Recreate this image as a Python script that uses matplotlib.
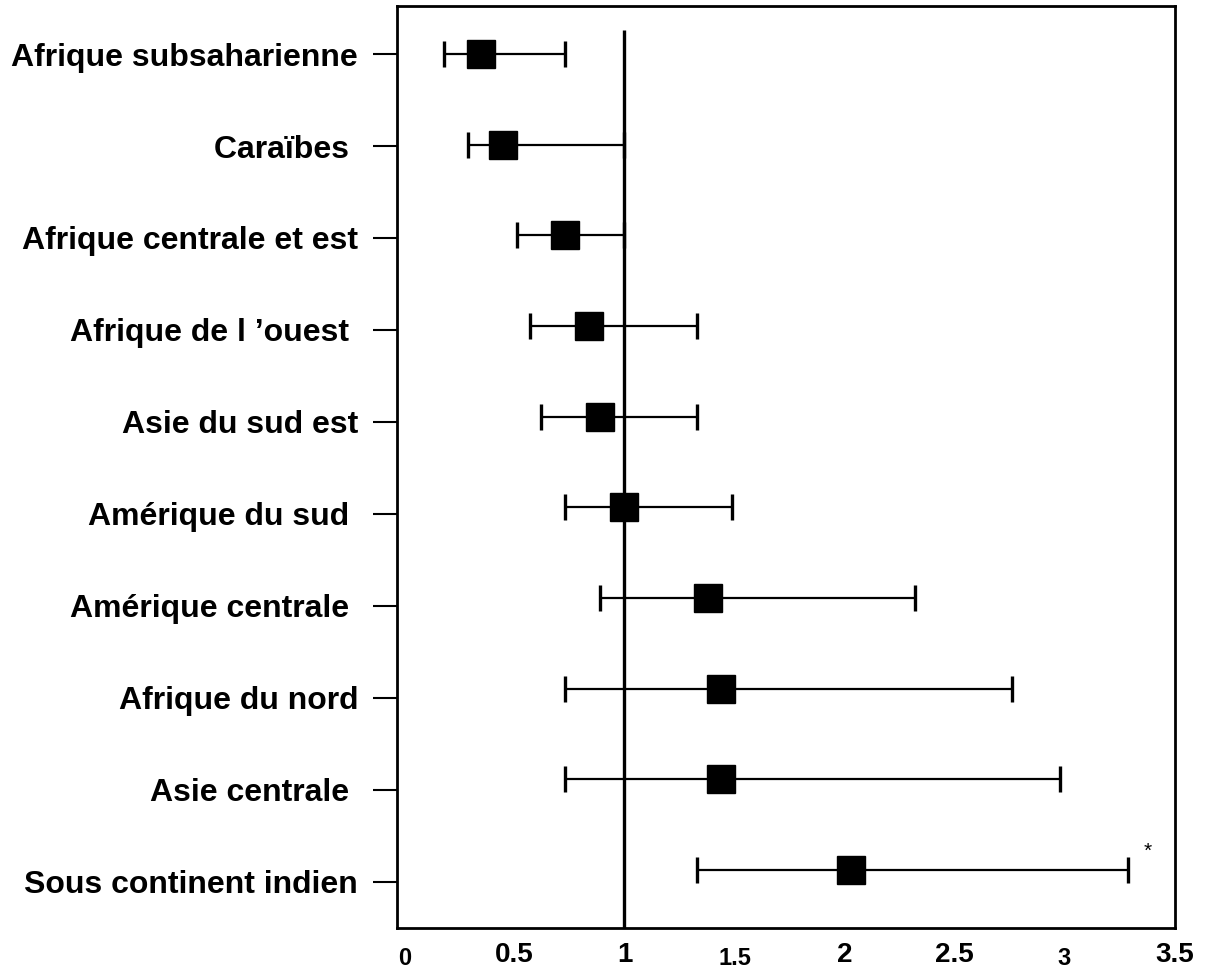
import numpy as np
import matplotlib
matplotlib.use("Agg")
import matplotlib.pyplot as plt
import matplotlib.transforms as mtransforms

# regions, top to bottom
regions = [
    "Afrique subsaharienne",
    "Caraïbes ",
    "Afrique centrale et est",
    "Afrique de l \u2019ouest ",
    "Asie du sud est",
    "Amérique du sud ",
    "Amérique centrale ",
    "Afrique du nord",
    "Asie centrale ",
    "Sous continent indien",
]
# point estimate and confidence interval
est = np.array([0.35, 0.45, 0.73, 0.84, 0.89, 1.00, 1.38, 1.44, 1.44, 2.03])
ci_low = np.array([0.18, 0.29, 0.51, 0.57, 0.62, 0.73, 0.89, 0.73, 0.73, 1.33])
ci_high = np.array([0.73, 1.00, 1.00, 1.33, 1.33, 1.49, 2.32, 2.76, 2.98, 3.29])

x_ticks = [0, 0.5, 1, 1.5, 2, 2.5, 3, 3.5]
x_labels = ["0", "0.5", "1", "1.5", "2", "2.5", "3", "3.5"]
small_labels = ["0", "1.5", "3"]

plt.rcParams['font.family'] = ['Liberation Sans', 'DejaVu Sans']

fig = plt.figure(figsize=(12.16, 9.68), dpi=100)
ax = fig.add_axes([0.3265, 0.0413, 0.6398, 0.9525])

rows = np.arange(len(regions))

ax.vlines(1, -0.265, 9.64, color='black', linewidth=2.4, zorder=1)

ax.errorbar(est, rows, xerr=[est - ci_low, ci_high - est], fmt='s',
            color='black', ms=20, ecolor='black', elinewidth=1.6,
            capsize=9.4, capthick=2.4, zorder=3)

# significance mark
ax.annotate("*", xy=(ci_high[-1], rows[-1]), xytext=(20, 19),
            textcoords='offset pixels', fontsize=15, ha='center', va='center')

ax.set_xlim(-0.034, 3.503)
ax.set_ylim(9.64, -0.53)

ax.set_yticks(rows * 1.0143)
ax.set_yticklabels(regions, fontsize=23, fontweight='bold')
ax.set_xticks(x_ticks)
ax.set_xticklabels(x_labels, fontsize=20, fontweight='bold')

ax.tick_params(axis='y', length=17, width=1.5, pad=11)
ax.tick_params(axis='x', length=0, pad=10)

shift = mtransforms.ScaledTranslation(0, -5 / 100, fig.dpi_scale_trans)
for lab in ax.get_xticklabels():
    if lab.get_text() in small_labels:
        lab.set_fontsize(17)
        lab.set_transform(lab.get_transform() + shift)

for s in ax.spines.values():
    s.set_linewidth(2)

fig.savefig("out.png", dpi=100)
